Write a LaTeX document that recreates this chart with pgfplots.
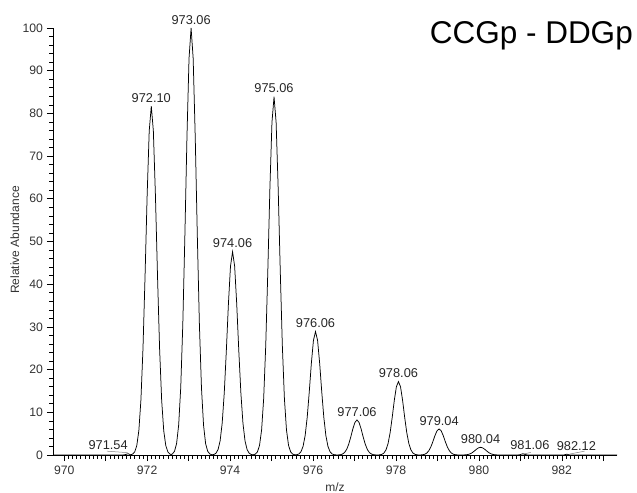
\documentclass[border=0pt]{standalone}
\usepackage{pgfplots}
\pgfplotsset{compat=1.18}
\usepackage{fontspec}
\setmainfont{Liberation Sans}
\begin{document}
\begin{tikzpicture}
\useasboundingbox (-53bp,-38bp) rectangle (584bp,455bp);
\begin{axis}[
  scale only axis,
  width=564bp, height=427bp,
  xmin=969.73, xmax=983.33, ymin=0, ymax=100,
  axis lines=left,
  axis line style={-, line width=0.8bp, black},
  clip=false,
  xtick={970,971,972,973,974,975,976,977,978,979,980,981,982,983},
  xticklabels={970,,972,,974,,976,,978,,980,,982,},
  minor x tick num=9,
  ytick={0,10,...,100},
  minor y tick num=4,
  tick align=outside,
  major tick length=6bp,
  minor tick length=3.5bp,
  tick style={black, line width=0.6bp},
  /pgf/number format/assume math mode=true,
  ticklabel style={font=\fontsize{12.2bp}{14bp}\selectfont, text=black!80},
  xticklabel style={yshift=-1bp},
  yticklabel style={xshift=-0.5bp},
]
\addplot[black, line width=0.75bp] coordinates {
(969.75,0) (971.40,0) (971.46,0.05) (971.54,0.3) (971.60,0.05)
(971.65,0.20) (971.70,0.72) (971.75,2.18) (971.80,5.70) (971.85,12.86) (971.90,25.02) (971.95,41.99) (972.00,60.78) (972.05,75.87) (972.10,81.7) (972.15,75.87) (972.20,60.78) (972.25,41.99) (972.30,25.02) (972.35,12.86) (972.40,5.70) (972.45,2.18) (972.50,0.72) (972.55,0.20) (972.58,0.12)
(972.61,0.25) (972.66,0.88) (972.71,2.67) (972.76,6.98) (972.81,15.74) (972.86,30.62) (972.91,51.39) (972.96,74.39) (973.01,92.87) (973.06,100) (973.11,92.87) (973.16,74.39) (973.21,51.39) (973.26,30.62) (973.31,15.74) (973.36,6.98) (973.41,2.67) (973.46,0.88) (973.51,0.25) (973.56,0.06)
(973.61,0.12) (973.66,0.42) (973.71,1.27) (973.76,3.32) (973.81,7.49) (973.86,14.58) (973.91,24.46) (973.96,35.41) (974.01,44.21) (974.06,47.6) (974.11,44.21) (974.16,35.41) (974.21,24.46) (974.26,14.58) (974.31,7.49) (974.36,3.32) (974.41,1.27) (974.46,0.42) (974.51,0.12) (974.56,0.05)
(974.61,0.21) (974.66,0.74) (974.71,2.24) (974.76,5.86) (974.81,13.21) (974.86,25.69) (974.91,43.12) (974.96,62.41) (975.01,77.92) (975.06,83.9) (975.11,77.92) (975.16,62.41) (975.21,43.12) (975.26,25.69) (975.31,13.21) (975.36,5.86) (975.41,2.24) (975.46,0.74) (975.51,0.21) (975.56,0.05)
(975.61,0.07) (975.66,0.25) (975.71,0.77) (975.76,2.02) (975.81,4.55) (975.86,8.85) (975.91,14.85) (975.96,21.50) (976.01,26.84) (976.06,28.9) (976.11,26.84) (976.16,21.50) (976.21,14.85) (976.26,8.85) (976.31,4.55) (976.36,2.02) (976.41,0.77) (976.46,0.25) (976.51,0.07) (976.56,0.02)
(976.61,0.02) (976.66,0.07) (976.71,0.22) (976.76,0.57) (976.81,1.29) (976.86,2.51) (976.91,4.21) (976.96,6.10) (977.01,7.62) (977.06,8.2) (977.11,7.62) (977.16,6.10) (977.21,4.21) (977.26,2.51) (977.31,1.29) (977.36,0.57) (977.41,0.22) (977.46,0.07) (977.51,0.02) (977.56,0)
(977.61,0.04) (977.66,0.15) (977.71,0.46) (977.76,1.20) (977.81,2.71) (977.86,5.27) (977.91,8.84) (977.96,12.80) (978.01,15.97) (978.06,17.2) (978.11,15.97) (978.16,12.80) (978.21,8.84) (978.26,5.27) (978.31,2.71) (978.36,1.20) (978.41,0.46) (978.46,0.15) (978.51,0.04) (978.55,0.01)
(978.59,0.02) (978.64,0.05) (978.69,0.16) (978.74,0.43) (978.79,0.96) (978.84,1.87) (978.89,3.13) (978.94,4.54) (978.99,5.67) (979.04,6.1) (979.09,5.67) (979.14,4.54) (979.19,3.13) (979.24,1.87) (979.29,0.96) (979.34,0.43) (979.39,0.16) (979.44,0.05) (979.49,0.02) (979.54,0)
(979.64,0.02) (979.69,0.05) (979.74,0.13) (979.79,0.28) (979.84,0.55) (979.89,0.93) (979.94,1.34) (979.99,1.67) (980.04,1.8) (980.09,1.67) (980.14,1.34) (980.19,0.93) (980.24,0.55) (980.29,0.28) (980.34,0.13) (980.39,0.05) (980.44,0.02) (980.49,0) (980.94,0)
(981.00,0.1) (981.06,0.3) (981.12,0.1) (981.18,0) (982.04,0) (982.08,0.08) (982.12,0.2) (982.16,0.08) (982.20,0) (983.33,0)
};
\begin{scope}[every node/.style={font=\fontsize{12.8bp}{14bp}\selectfont, text=black!85, inner sep=0pt}]
\node[anchor=south, yshift=3.5bp] at (axis cs:972.10,81.7) {972.10};
\node[anchor=south, yshift=3.5bp] at (axis cs:973.06,100) {973.06};
\node[anchor=south, yshift=3.5bp] at (axis cs:974.06,47.6) {974.06};
\node[anchor=south, yshift=3.5bp] at (axis cs:975.06,83.9) {975.06};
\node[anchor=south, yshift=3.5bp] at (axis cs:976.06,28.9) {976.06};
\node[anchor=south, yshift=3.5bp] at (axis cs:977.06,8.2) {977.06};
\node[anchor=south, yshift=3.5bp] at (axis cs:978.06,17.2) {978.06};
\node[anchor=south, yshift=3.5bp] at (axis cs:979.04,6.1) {979.04};
\node[anchor=south, yshift=3.5bp] at (axis cs:980.04,1.8) {980.04};
\node[anchor=base] at (axis cs:971.06,1.2) {971.54};
\node[anchor=base] at (axis cs:981.23,1.35) {981.06};
\node[anchor=base] at (axis cs:982.35,1.0) {982.12};
\end{scope}
\draw[gray, line width=0.5bp] (axis cs:971.03,0.9) -- (axis cs:971.53,0.55);
\draw[gray, line width=0.5bp] (axis cs:981.02,0.1) -- (axis cs:981.25,0.6);
\draw[gray, line width=0.5bp] (axis cs:982.18,0.2) -- (axis cs:982.55,0.9);
\end{axis}
\node[rotate=90, anchor=base, inner sep=0pt, font=\fontsize{12bp}{13bp}\selectfont, text=black!80] at (-34bp,215bp) {Relative Abundance};
\node[anchor=base, inner sep=0pt, font=\fontsize{12bp}{13bp}\selectfont, text=black!80] at (282bp,-36bp) {m/z};
\node[anchor=base east, inner sep=0pt, font=\fontsize{31.5bp}{34bp}\selectfont] at (580bp,411.7bp) {CCGp - DDGp};
\end{tikzpicture}
\end{document}
